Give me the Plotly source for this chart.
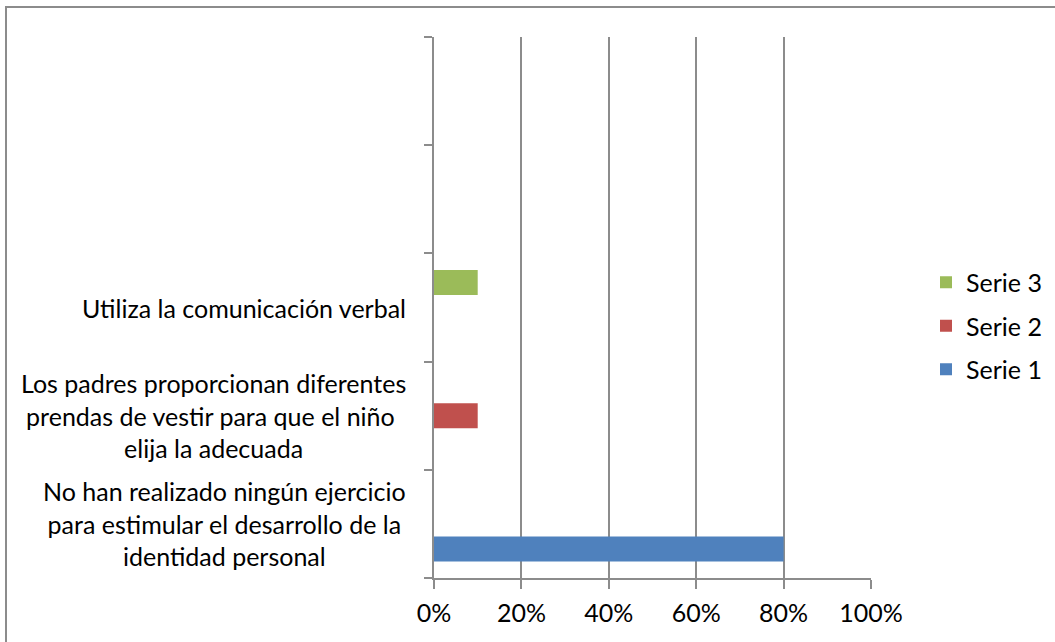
import plotly.graph_objects as go

# Category labels, bottom to top (the two top slots are unlabeled)
categories = [
    "No han realizado ningún ejercicio<br>para estimular el desarrollo de la<br>identidad personal",
    "Los padres proporcionan diferentes<br>prendas de vestir para que el niño&nbsp;<br>elija la adecuada",
    "Utiliza la comunicación verbal",
    "",
    "",
]
series_names = ["Serie 1", "Serie 2", "Serie 3"]
serie1 = [0.80, None, None, None, None]
serie2 = [None, 0.10, None, None, None]
serie3 = [None, None, 0.10, None, None]
x_ticks = [0, 0.2, 0.4, 0.6, 0.8, 1.0]

colors = ["#4F81BD", "#C0504D", "#9BBB59"]
grid = "#8C8C8C"
font = "Lato"
fsize = 25

positions = list(range(1, len(categories) + 1))

fig = go.Figure()
for i, (name, vals, col) in enumerate(zip(series_names, [serie1, serie2, serie3], colors)):
    fig.add_trace(go.Bar(
        x=vals, y=positions, name=name, orientation="h",
        marker=dict(color=col, line=dict(width=0)),
        legendgroup=name, legendrank=100 - i,
    ))

# plot area in pixels
W, H = 1055, 642
L, R, T, B = 434, 871, 37, 578

fig.update_layout(
    width=W, height=H,
    margin=dict(l=L, r=W - R, t=T, b=H - B, pad=0, autoexpand=False),
    paper_bgcolor="white", plot_bgcolor="white",
    barmode="group", bargap=0.307, bargroupgap=0,
    font=dict(family=font, size=fsize, color="#000000"),
    showlegend=True,
    legend=dict(
        xref="container", x=926 / W, xanchor="left",
        yref="container", y=(H - 326) / H, yanchor="middle",
        traceorder="grouped", tracegroupgap=8,
        font=dict(family=font, size=fsize, color="#000000"),
        itemwidth=30, bgcolor="rgba(0,0,0,0)",
    ),
    xaxis=dict(
        range=[0, 1], tickvals=x_ticks, tickformat=".0%",
        showgrid=True, gridcolor=grid, gridwidth=2,
        showline=True, linecolor=grid, linewidth=2,
        ticks="outside", ticklen=9, tickwidth=2, tickcolor=grid,
        zeroline=False, fixedrange=True,
        ticklabelstandoff=3,
    ),
    yaxis=dict(
        range=[0.5, len(categories) + 0.5],
        tickvals=[p - 0.5 for p in positions] + [len(categories) + 0.5],
        showticklabels=False, showgrid=False,
        showline=True, linecolor=grid, linewidth=2,
        ticks="outside", ticklen=8, tickwidth=2, tickcolor=grid,
        zeroline=False, fixedrange=True,
    ),
)

# category labels, centred line by line, right edge near the axis
for pos, label in zip(positions, categories):
    if label:
        fig.add_annotation(
            x=0, xref="paper", y=pos, yref="y",
            text=label, showarrow=False,
            xanchor="right", yanchor="middle", align="center",
            xshift=-26, font=dict(family=font, size=fsize, color="#000000"),
        )

# chart frame
fig.add_shape(
    type="rect", xref="paper", yref="paper", layer="below",
    x0=(6 - L) / (R - L), x1=1.6,
    y0=-0.3, y1=(B - 7) / (B - T),
    line=dict(color=grid, width=2), fillcolor="rgba(0,0,0,0)",
)

fig.write_html("out.html")
